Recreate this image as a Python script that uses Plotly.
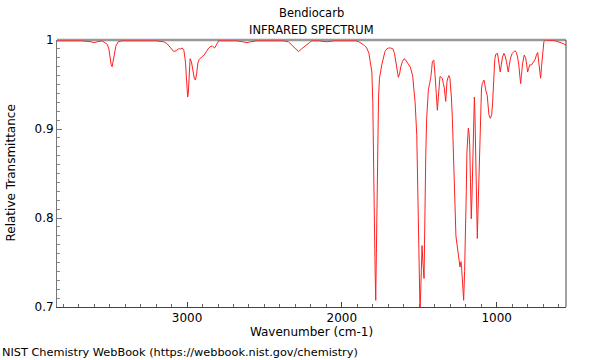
import plotly.graph_objects as go

wavenumber = [3845, 3750, 3680, 3620, 3600, 3580, 3550, 3530, 3515, 3505, 3497, 3490, 3484, 3478, 3470, 3460, 3445, 3420,
              3300, 3200, 3150, 3130, 3110, 3095, 3086, 3070, 3055, 3043, 3030, 3020, 3010, 3003, 2996, 2992, 2986, 2980,
              2972, 2962, 2953, 2946, 2938, 2930, 2922, 2905, 2890, 2875, 2860, 2845, 2835, 2822, 2810, 2796, 2750, 2680,
              2640, 2613, 2590, 2550, 2450, 2380, 2345, 2320, 2300, 2280, 2260, 2235, 2210, 2194, 2150, 2100, 2050, 2000,
              1950, 1910, 1890, 1871, 1855, 1839, 1825, 1817, 1810, 1806, 1800, 1796, 1790, 1785, 1781, 1777, 1773, 1768,
              1763, 1757, 1750, 1742, 1730, 1721, 1710, 1699, 1685, 1670, 1660, 1652, 1645, 1635, 1627, 1619, 1608, 1598,
              1590, 1581, 1570, 1559, 1550, 1542, 1535, 1527, 1516, 1510, 1506, 1500, 1495, 1490, 1486, 1482, 1478, 1474,
              1469, 1466, 1463, 1458, 1452, 1446, 1441, 1433, 1426, 1420, 1415, 1406, 1401, 1398, 1390, 1383, 1377, 1372,
              1366, 1358, 1351, 1344, 1338, 1329, 1321, 1314, 1308, 1302, 1297, 1292, 1286, 1280, 1275, 1269, 1263, 1258,
              1248, 1242, 1237, 1232, 1230, 1226, 1220, 1213, 1207, 1200, 1196, 1192, 1188, 1183, 1178, 1174, 1169, 1164,
              1160, 1155, 1150, 1144, 1140, 1135, 1130, 1125, 1120, 1114, 1108, 1103, 1098, 1093, 1082, 1076, 1071, 1061,
              1055, 1050, 1041, 1036, 1032, 1026, 1021, 1017, 1012, 1006, 995, 990, 985, 977, 970, 962, 953, 945, 937,
              931, 925, 918, 910, 899, 882, 873, 865, 857, 850, 845, 840, 832, 822, 813, 805, 800, 793, 787, 775, 768,
              761, 752, 743, 735, 728, 722, 716, 710, 703, 695, 685, 670, 640, 620, 602, 585, 570, 550]

transmittance = [0.999, 0.999, 0.999, 0.998, 0.997, 0.998, 0.999, 0.997, 0.995, 0.990, 0.980, 0.972, 0.970, 0.975, 0.985, 0.993, 0.998, 0.999,
                 0.999, 0.999, 0.998, 0.996, 0.992, 0.988, 0.987, 0.988, 0.990, 0.990, 0.991, 0.988, 0.975, 0.955, 0.936, 0.940, 0.965, 0.979,
                 0.976, 0.965, 0.957, 0.955, 0.962, 0.974, 0.978, 0.981, 0.983, 0.987, 0.991, 0.993, 0.993, 0.991, 0.995, 0.999, 0.999, 0.999,
                 0.998, 0.997, 0.998, 0.999, 0.999, 0.999, 0.998, 0.994, 0.990, 0.987, 0.990, 0.994, 0.997, 0.999, 0.999, 0.998, 0.999, 0.999,
                 0.999, 0.999, 0.998, 0.996, 0.994, 0.991, 0.985, 0.976, 0.968, 0.964, 0.930, 0.893, 0.800, 0.740, 0.7075, 0.760, 0.830, 0.893,
                 0.935, 0.957, 0.965, 0.972, 0.981, 0.987, 0.990, 0.991, 0.991, 0.990, 0.985, 0.975, 0.968, 0.958, 0.962, 0.970, 0.976, 0.979,
                 0.978, 0.976, 0.973, 0.970, 0.965, 0.959, 0.945, 0.931, 0.893, 0.840, 0.781, 0.720, 0.695, 0.720, 0.755, 0.769, 0.755, 0.740,
                 0.732, 0.770, 0.818, 0.870, 0.912, 0.933, 0.944, 0.951, 0.957, 0.967, 0.976, 0.9775, 0.970, 0.961, 0.940, 0.921, 0.935, 0.953,
                 0.959, 0.958, 0.957, 0.951, 0.946, 0.931, 0.953, 0.958, 0.960, 0.957, 0.949, 0.935, 0.912, 0.875, 0.837, 0.792, 0.780, 0.773,
                 0.762, 0.755, 0.745, 0.750, 0.751, 0.743, 0.725, 0.7075, 0.740, 0.781, 0.830, 0.874, 0.895, 0.901, 0.895, 0.882, 0.840, 0.799,
                 0.820, 0.856, 0.900, 0.936, 0.915, 0.874, 0.820, 0.777, 0.810, 0.856, 0.900, 0.931, 0.945, 0.951, 0.955, 0.950, 0.944, 0.938,
                 0.928, 0.916, 0.912, 0.914, 0.916, 0.930, 0.950, 0.968, 0.978, 0.984, 0.985, 0.980, 0.972, 0.964, 0.972, 0.981, 0.985, 0.982, 0.976,
                 0.970, 0.964, 0.972, 0.980, 0.985, 0.988, 0.986, 0.981, 0.972, 0.960, 0.951, 0.960, 0.974, 0.983, 0.980, 0.971, 0.964, 0.968, 0.972, 0.972, 0.974,
                 0.975, 0.978, 0.983, 0.986, 0.975, 0.963, 0.957, 0.970, 0.988, 0.998, 1.0, 1.0, 0.9995, 0.999, 0.998, 0.997, 0.996, 0.994]

x_tick_vals = [3000, 2000, 1000]
x_tick_text = ["3000", "2000", "1000"]
y_tick_vals = [0.7, 0.8, 0.9, 1.0]
y_tick_text = ["0.7", "0.8", "0.9", "1"]

FONT = "DejaVu Sans, Verdana, sans-serif"

fig = go.Figure()
fig.add_trace(go.Scatter(x=wavenumber, y=transmittance, mode="lines",
                         line=dict(color="#ff2020", width=1), hoverinfo="skip"))

fig.update_layout(
    width=600, height=360,
    margin=dict(l=57, r=34, t=40, b=53),
    paper_bgcolor="white", plot_bgcolor="white",
    showlegend=False,
    font=dict(family=FONT, size=12, color="#000000"),
    xaxis=dict(range=[3840, 552], showgrid=False, zeroline=False, automargin=False,
               showline=True, linecolor="#444444", linewidth=1,
               ticks="inside", ticklen=5, tickcolor="#444444",
               tickvals=x_tick_vals, ticktext=x_tick_text,
               minor=dict(dtick=100, tick0=0, ticks="inside", ticklen=3, tickcolor="#666666"),
               title=dict(text="Wavenumber (cm-1)", standoff=0, font=dict(size=12))),
    yaxis=dict(range=[0.7, 1.0], showgrid=False, zeroline=False, automargin=False,
               showline=True, linecolor="#777777", linewidth=1,
               ticks="inside", ticklen=5, tickcolor="#777777",
               tickvals=y_tick_vals, ticktext=y_tick_text,
               minor=dict(dtick=0.01, tick0=0, ticks="inside", ticklen=3, tickcolor="#888888")),
    shapes=[
        dict(type="line", xref="paper", yref="paper", x0=0, x1=1, y0=1, y1=1,
             line=dict(color="#999999", width=2.5), layer="below"),
        dict(type="line", xref="paper", yref="paper", x0=1, x1=1, y0=0, y1=1,
             line=dict(color="#444444", width=1)),
    ],
    annotations=[
        dict(text="Bendiocarb", xref="paper", yref="paper", x=0.5, y=1, yshift=27,
             showarrow=False, xanchor="center", yanchor="middle", font=dict(size=11.5)),
        dict(text="INFRARED SPECTRUM", xref="paper", yref="paper", x=0.5, y=1, yshift=10,
             showarrow=False, xanchor="center", yanchor="middle", font=dict(size=11.5)),
        dict(text="Relative Transmittance", xref="paper", yref="paper", x=0, xshift=-47, y=0.5,
             textangle=-90, showarrow=False, xanchor="center", yanchor="middle", font=dict(size=12)),
        dict(text="NIST Chemistry WebBook (https://webbook.nist.gov/chemistry)", xref="paper", yref="paper",
             x=0, xshift=-57, y=0, yshift=-45, showarrow=False, xanchor="left", yanchor="middle",
             font=dict(size=11.3)),
    ],
)

fig.write_html("out.html", config={"displayModeBar": False},
               post_script="document.body.style.margin='0';document.body.style.padding='0';document.body.style.overflow='hidden';")
